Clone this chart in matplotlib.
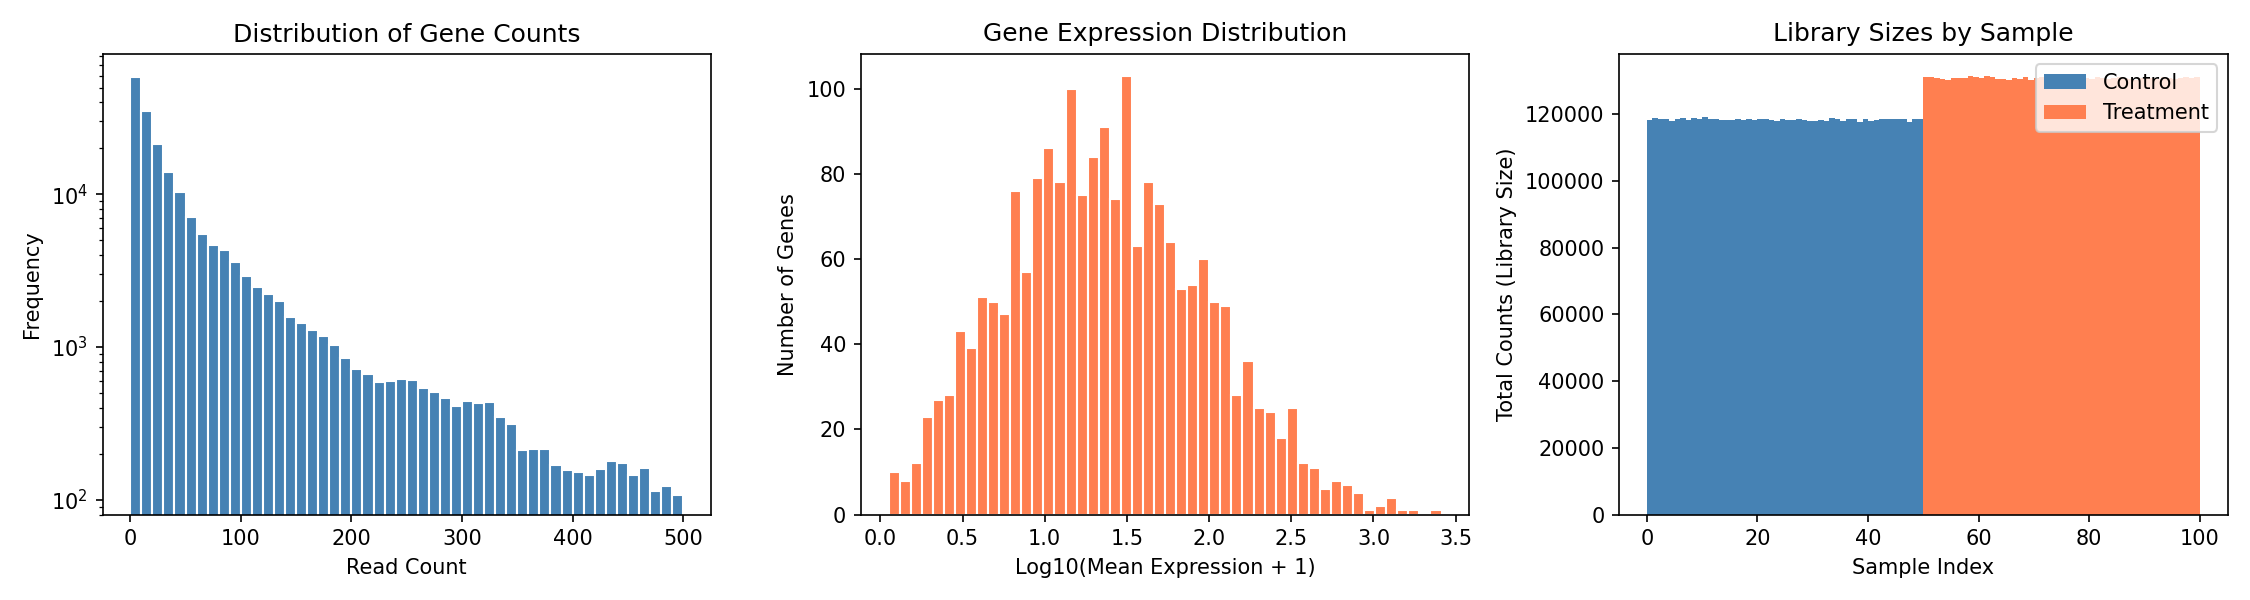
import numpy as np
import matplotlib
matplotlib.use('Agg')
import matplotlib.pyplot as plt

# Panel 1: read-count histogram (bins of 10, 0..500), log y
count_bin_edges = np.arange(0, 501, 10)
count_freqs = [58700, 35200, 21300, 14100, 10300, 7150, 5530, 4670, 4330, 3610,
               2920, 2470, 2220, 2000, 1570, 1430, 1290, 1190, 1025, 854,
               723, 670, 593, 602, 621, 612, 542, 510, 465, 412,
               445, 431, 438, 349, 313, 211, 214, 214, 168, 156,
               151, 145, 158, 179, 173, 145, 161, 115, 124, 108]

# Panel 2: log10(mean expression + 1) histogram
expr_bin_edges = np.linspace(0.05, 3.414, 51)
expr_counts = [10, 8, 12, 23, 27, 28, 43, 39, 51, 50,
               47, 76, 57, 79, 86, 78, 100, 75, 84, 91,
               74, 103, 63, 78, 73, 64, 53, 54, 60, 50,
               49, 28, 36, 25, 24, 18, 25, 12, 11, 6,
               8, 7, 5, 1, 2, 4, 1, 1, 0, 1]

# Panel 3: library sizes per sample
control_sizes = [118230, 118830, 118530, 118530, 117920, 118530, 118830, 118230, 118830, 118530,
                 119130, 118530, 118530, 118230, 118230, 118230, 118530, 118230, 118530, 118230,
                 118530, 118530, 118230, 117920, 118530, 118230, 118230, 118530, 118230, 117920,
                 117920, 118230, 117920, 118830, 118530, 117920, 118530, 118530, 117620, 118530,
                 117920, 118230, 118530, 118530, 118530, 118530, 118530, 117620, 118530, 118530]
treatment_sizes = [131240, 131240, 130930, 130630, 130330, 130930, 130930, 130930, 131540, 131240,
                   130930, 131540, 131240, 130630, 130630, 130330, 130930, 130630, 131240, 130330,
                   130930, 131240, 130630, 130930, 131240, 130630, 130330, 130930, 131240, 130930,
                   130630, 131240, 130930, 130630, 130930, 131240, 130930, 130630, 130330, 130930,
                   131240, 130930, 130630, 131240, 130930, 130630, 130930, 131240, 130930, 131240]

BLUE = '#4682B4'
CORAL = '#FF7F50'

fig, (ax1, ax2, ax3) = plt.subplots(1, 3, figsize=(15, 4), dpi=150)

# Panel 1
ax1.bar(count_bin_edges[:-1], count_freqs, width=np.diff(count_bin_edges), align='edge',
        color=BLUE, edgecolor='white', linewidth=1)
ax1.set_yscale('log')
ax1.set_ylim(80, 8.3e4)
ax1.set_title('Distribution of Gene Counts')
ax1.set_xlabel('Read Count')
ax1.set_ylabel('Frequency')

# Panel 2
ax2.bar(expr_bin_edges[:-1], expr_counts, width=np.diff(expr_bin_edges), align='edge',
        color=CORAL, edgecolor='white', linewidth=1)
ax2.set_title('Gene Expression Distribution')
ax2.set_xlabel('Log10(Mean Expression + 1)')
ax2.set_ylabel('Number of Genes')

# Panel 3
n_ctrl = len(control_sizes)
ax3.bar(np.arange(n_ctrl), control_sizes, width=1, align='edge', color=BLUE, label='Control')
ax3.bar(np.arange(n_ctrl, n_ctrl + len(treatment_sizes)), treatment_sizes, width=1, align='edge',
        color=CORAL, label='Treatment')
ax3.set_title('Library Sizes by Sample')
ax3.set_xlabel('Sample Index')
ax3.set_ylabel('Total Counts (Library Size)')
ax3.legend(loc='upper right')

plt.tight_layout()
plt.savefig('out.png', dpi=150)
